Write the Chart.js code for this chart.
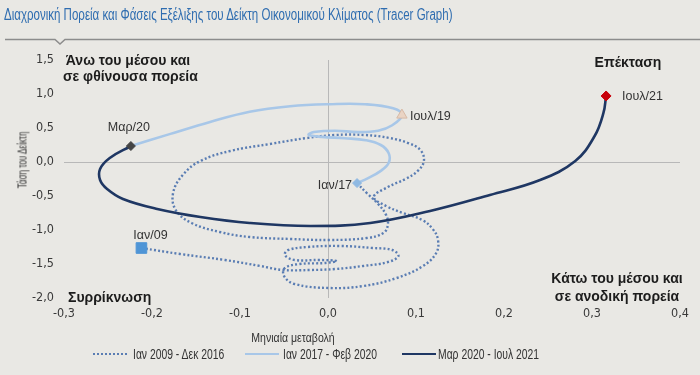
<!DOCTYPE html>
<html>
<head>
<meta charset="utf-8">
<script src="https://cdn.jsdelivr.net/npm/chart.js@4.4.1/dist/chart.umd.min.js"></script>
<style>
html,body{margin:0;padding:0;background:#e9e8e4;}
#wrap{position:relative;width:700px;height:375px;overflow:hidden;background:#e9e8e4;
  font-family:'Liberation Sans',Arial,sans-serif;}
#title{position:absolute;left:4px;top:6px;font-size:16px;color:#2f6db0;white-space:nowrap;transform-origin:0 50%;transform:scaleX(0.72);}
#rule{position:absolute;left:0;top:0;}
#c{position:absolute;left:0;top:0;}
.q{position:absolute;font-family:'Liberation Sans',Arial,sans-serif;font-weight:bold;font-size:14px;color:#1c1c1c;white-space:nowrap;text-align:center;}
#ytitle{position:absolute;left:22px;top:160px;transform:translate(-50%,-50%) rotate(-90deg) scaleX(0.62);font-size:13px;color:#333;white-space:nowrap;}
#xtitle{position:absolute;left:293px;top:337px;transform:translate(-50%,-50%) scaleX(0.78);font-size:13.5px;color:#333;white-space:nowrap;}
.sw{position:absolute;width:34px;height:0;}
.lt{position:absolute;font-size:14px;color:#333;white-space:nowrap;transform-origin:0 50%;transform:translateY(-50%) scaleX(0.74);}
</style>
</head>
<body>
<div id="wrap">
  <canvas id="c" width="700" height="375"></canvas>
  <div id="title">Διαχρονική Πορεία και Φάσεις Εξέλιξης του Δείκτη Οικονομικού Κλίματος (Tracer Graph)</div>
  <svg id="rule" width="700" height="50"><polyline points="5,39.5 55,39.5 60,44 65,39.5 700,39.5" fill="none" stroke="#8c8c8c" stroke-width="1.5"/></svg>
  <div class="q" style="left:63px;top:52px;width:130px;line-height:16px;">Άνω του μέσου και<br>σε φθίνουσα πορεία</div>
  <div class="q" style="left:578px;top:54px;width:100px;line-height:16px;">Επέκταση</div>
  <div class="q" style="left:68px;top:289px;line-height:16px;">Συρρίκνωση</div>
  <div class="q" style="left:547px;top:269px;width:140px;line-height:18px;">Κάτω του μέσου και<br>σε ανοδική πορεία</div>
  <div id="ytitle">Τάση του Δείκτη</div>
  <div id="xtitle">Μηνιαία μεταβολή</div>
  <div id="legend"></div>
</div>
<script>
// ---- Data ----
const seriesNames = ['Ιαν 2009 - Δεκ 2016', 'Ιαν 2017 - Φεβ 2020', 'Μαρ 2020 - Ιουλ 2021'];

// Jan 2009 - Dec 2016 (dotted)
const dotX = [-0.212,-0.168,-0.117,-0.077,-0.051,-0.020,0.008,0.040,0.068,0.080,0.073,0.051,0.014,-0.023,-0.045,-0.049,-0.038,-0.009,0.010,-0.003,-0.032,-0.049,-0.050,-0.038,0.002,0.040,0.078,0.108,0.123,0.125,0.119,0.107,0.085,0.066,0.052,0.068,0.088,0.102,0.109,0.105,0.091,0.070,0.042,0.008,-0.024,-0.066,-0.111,-0.145,-0.165,-0.176,-0.173,-0.155,-0.123,-0.089,-0.043,0.002,0.044,0.063,0.068,0.066,0.057,0.044,0.033];
const dotY = [-1.265,-1.353,-1.441,-1.529,-1.588,-1.588,-1.574,-1.529,-1.471,-1.382,-1.294,-1.265,-1.235,-1.250,-1.294,-1.368,-1.441,-1.441,-1.456,-1.485,-1.500,-1.559,-1.676,-1.794,-1.853,-1.824,-1.706,-1.529,-1.338,-1.147,-0.985,-0.853,-0.750,-0.647,-0.515,-0.368,-0.250,-0.132,0.015,0.176,0.279,0.353,0.397,0.397,0.353,0.265,0.162,0.015,-0.191,-0.456,-0.706,-0.897,-1.029,-1.103,-1.132,-1.147,-1.118,-1.044,-0.926,-0.779,-0.618,-0.456,-0.31];

// Jan 2017 - Feb 2020 (light blue)
const lightX = [0.033,0.045,0.060,0.069,0.069,0.060,0.043,0.019,-0.007,-0.022,-0.016,0.008,0.034,0.057,0.073,0.084,0.074,0.042,0.002,-0.043,-0.089,-0.134,-0.180,-0.224];
const lightY = [-0.31,-0.24,-0.13,-0.01,0.13,0.25,0.32,0.35,0.37,0.40,0.44,0.46,0.44,0.46,0.54,0.69,0.79,0.85,0.85,0.82,0.74,0.59,0.41,0.235];
const jul19Index = 15;

// Mar 2020 - Jul 2021 (dark)
const darkX = [-0.224,-0.248,-0.259,-0.259,-0.251,-0.233,-0.194,-0.145,-0.089,-0.020,0.048,0.116,0.184,0.241,0.281,0.303,0.313,0.316];
const darkY = [0.235,0.059,-0.103,-0.265,-0.397,-0.544,-0.691,-0.809,-0.897,-0.941,-0.897,-0.721,-0.485,-0.265,0.015,0.382,0.721,0.971];

const markerLabels = ['Ιαν/09','Ιαν/17','Ιουλ/19','Μαρ/20','Ιουλ/21'];

const xTicks = [-0.3,-0.2,-0.1,0.0,0.1,0.2,0.3,0.4];
const yTicks = [1.5,1.0,0.5,0.0,-0.5,-1.0,-1.5,-2.0];

// ---- build ----
const toPts = (xs, ys) => xs.map((x, i) => ({x: x, y: ys[i]}));
const markerPts = [
  {x: dotX[0], y: dotY[0]},
  {x: lightX[0], y: lightY[0]},
  {x: lightX[jul19Index], y: lightY[jul19Index]},
  {x: darkX[0], y: darkY[0]},
  {x: darkX[darkX.length-1], y: darkY[darkY.length-1]}
];

const colors = {dot:'#5a7db3', light:'#a8c7e8', dark:'#1f3763'};

// legend (HTML)
const legendCfg = [
  {sw:93, tx:133, style:'border-top:2.5px dotted '+colors.dot},
  {sw:245, tx:283, style:'border-top:2.5px solid '+colors.light},
  {sw:402, tx:438, style:'border-top:2.5px solid '+colors.dark}
];
const lg = document.getElementById('legend');
seriesNames.forEach((n, i) => {
  const s = document.createElement('div'); s.className='sw';
  s.style.cssText = 'left:'+legendCfg[i].sw+'px;top:353px;'+legendCfg[i].style;
  lg.appendChild(s);
  const t = document.createElement('div'); t.className='lt';
  t.style.left = legendCfg[i].tx+'px'; t.style.top='354px'; t.textContent = n;
  lg.appendChild(t);
});

const fmt = v => {
  const r = Math.round(v*10)/10;
  return (r === 0 ? 0 : r).toFixed(1).replace('.', ',');
};
const zeroGrid = ctx => (ctx.tick && Math.abs(ctx.tick.value) < 1e-9) ? '#b8b8b8' : 'rgba(0,0,0,0)';
const tickFont = {family:"'DejaVu Sans Condensed','Liberation Sans',sans-serif", size:12.5};

const labelOffsets = [
  {dx:9, dy:-12, align:'center'},
  {dx:-5, dy:2, align:'right'},
  {dx:8, dy:1, align:'left'},
  {dx:-2, dy:-18, align:'center'},
  {dx:16, dy:1, align:'left'}
];

const pointLabelPlugin = {
  id:'pointLabels',
  afterDatasetsDraw(chart) {
    const ctx = chart.ctx;
    const xs = chart.scales.x, ys = chart.scales.y;
    ctx.save();
    ctx.font = "12.5px 'Liberation Sans', Arial, sans-serif";
    ctx.fillStyle = '#333';
    ctx.textBaseline = 'middle';
    markerPts.forEach((p, i) => {
      const o = labelOffsets[i];
      ctx.textAlign = o.align;
      ctx.fillText(markerLabels[i], xs.getPixelForValue(p.x) + o.dx, ys.getPixelForValue(p.y) + o.dy);
    });
    ctx.restore();
  }
};

new Chart(document.getElementById('c'), {
  type: 'scatter',
  data: {
    datasets: [
      {label:'markers', data: markerPts, showLine:false, order:0,
       pointStyle:['rect','rectRot','triangle','rectRot','rectRot'],
       pointRadius:[7.5,4.5,6,4.5,5],
       backgroundColor:['#4f95d6','#8fb9e2','#ead4c4','#444444','#c8000a'],
       borderColor:['#4f95d6','#8fb9e2','#d6b9a5','#444444','#c8000a'],
       borderWidth:1},
      {label:seriesNames[2], data: toPts(darkX, darkY), showLine:true, order:1,
       borderColor:colors.dark, borderWidth:2.6, pointRadius:0, tension:0.4, fill:false},
      {label:seriesNames[1], data: toPts(lightX, lightY), showLine:true, order:2,
       borderColor:colors.light, borderWidth:2.6, pointRadius:0, tension:0.4, fill:false},
      {label:seriesNames[0], data: toPts(dotX, dotY), showLine:true, order:3,
       borderColor:colors.dot, borderWidth:2.4, borderDash:[2,2.2], pointRadius:0, tension:0.4, fill:false}
    ]
  },
  options: {
    responsive:false, animation:false, devicePixelRatio:1,
    layout:{padding:{left:0, right:20, top:60, bottom:57}},
    plugins:{legend:{display:false}, tooltip:{enabled:false}, title:{display:false}},
    scales:{
      x:{type:'linear', min:-0.3, max:0.4,
         afterFit: s => { s.height = 20; },
         afterBuildTicks: s => { s.ticks = xTicks.map(v => ({value:v})); },
         ticks:{padding:8, callback:fmt, font:tickFont, color:'#3a3a3a', maxRotation:0},
         grid:{drawTicks:false, color:zeroGrid, lineWidth:1},
         border:{display:false}},
      y:{type:'linear', min:-2, max:1.5,
         afterFit: s => { s.width = 64; },
         afterBuildTicks: s => { s.ticks = yTicks.map(v => ({value:v})); },
         ticks:{padding:10, callback:fmt, font:tickFont, color:'#3a3a3a'},
         grid:{drawTicks:false, color:zeroGrid, lineWidth:1},
         border:{display:false}}
    }
  },
  plugins:[pointLabelPlugin]
});
</script>
</body>
</html>
